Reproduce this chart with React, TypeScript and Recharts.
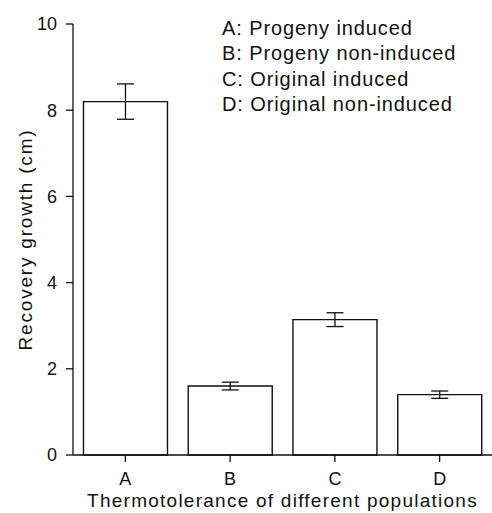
import React from 'react';
import { BarChart, Bar, XAxis, YAxis, ErrorBar } from 'recharts';

const groups = ['A', 'B', 'C', 'D'];
const growth = [8.2, 1.6, 3.14, 1.4];
const growthErr = [0.41, 0.09, 0.16, 0.085];
const yTicks = [0, 2, 4, 6, 8, 10];
const legendLines = [
  'A: Progeny induced',
  'B: Progeny non-induced',
  'C: Original induced',
  'D: Original non-induced',
];

const data = groups.map((g, i) => ({ group: g, growth: growth[i], err: growthErr[i] }));

const font = '"Liberation Sans", Arial, sans-serif';
const ink = '#111';

export default function App() {
  return (
    <div style={{ position: 'fixed', left: 0, top: 0, width: 492, height: 513, background: '#fff' }}>
      <BarChart
        width={492}
        height={513}
        data={data}
        margin={{ top: 24, right: 0, left: 0, bottom: 0 }}
        barCategoryGap="10%"
      >
        <XAxis
          dataKey="group"
          height={58}
          axisLine={{ stroke: ink, strokeWidth: 1.5 }}
          tickLine={{ stroke: ink, strokeWidth: 1.3 }}
          tickSize={7}
          tickMargin={10}
          tick={{ fill: ink, fontSize: 18, fontFamily: font }}
          label={({ viewBox }: any) => (
            <text
              x={viewBox.x + viewBox.width / 2}
              y={507}
              textAnchor="middle"
              fill={ink}
              fontSize={19}
              fontFamily={font}
              letterSpacing={1.25}
            >
              Thermotolerance of different populations
            </text>
          )}
        />
        <YAxis
          width={73}
          domain={[0, 10]}
          ticks={yTicks}
          interval={0}
          axisLine={{ stroke: ink, strokeWidth: 1.3 }}
          tickLine={{ stroke: ink, strokeWidth: 1.3 }}
          tickSize={7}
          tickMargin={9}
          tick={{ fill: ink, fontSize: 18, fontFamily: font }}
          label={({ viewBox }: any) => {
            const cy = viewBox.y + viewBox.height / 2;
            return (
              <text
                x={32}
                y={cy}
                transform={`rotate(-90, 32, ${cy})`}
                textAnchor="middle"
                fill={ink}
                fontSize={19}
                fontFamily={font}
                letterSpacing={1.8}
              >
                Recovery growth (cm)
              </text>
            );
          }}
        />
        <Bar
          dataKey="growth"
          fill="#fff"
          stroke={ink}
          strokeWidth={1.4}
          isAnimationActive={false}
        >
          <ErrorBar dataKey="err" width={8.5} stroke={ink} strokeWidth={1.3} direction="y" />
        </Bar>
      </BarChart>
      <div
        style={{
          position: 'absolute',
          left: 222,
          top: 16,
          fontFamily: font,
          fontSize: 20,
          letterSpacing: 0.9,
          lineHeight: '25.3px',
          color: ink,
          whiteSpace: 'nowrap',
        }}
      >
        {legendLines.map((t) => (
          <div key={t}>{t}</div>
        ))}
      </div>
    </div>
  );
}
